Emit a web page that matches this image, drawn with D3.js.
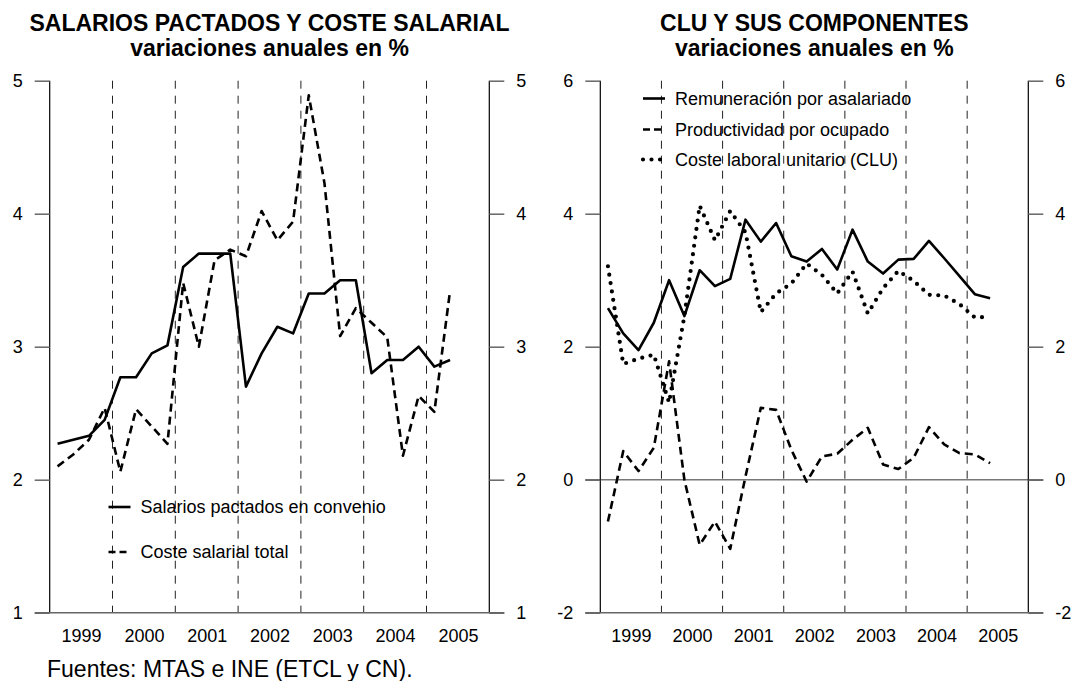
<!DOCTYPE html>
<html>
<head>
<meta charset="utf-8">
<script src="https://cdn.jsdelivr.net/npm/d3@7"></script>
<style>
  body { margin: 0; background: #fff; }
  svg { display: block; font-family: "Liberation Sans", Arial, sans-serif; }
</style>
</head>
<body>
<div id="chart"></div>
<script>
// quarterly data, 1999Q1 .. 2005Q2
const startYear = 1999;
const years = [1999, 2000, 2001, 2002, 2003, 2004, 2005];
const yearBreaks = [2000, 2001, 2002, 2003, 2004, 2005];

// left panel
const salariosPactados = [2.27, 2.30, 2.33, 2.45, 2.77, 2.77, 2.95, 3.01, 3.60, 3.70, 3.70, 3.70, 2.70,
  2.95, 3.15, 3.10, 3.40, 3.40, 3.50, 3.50, 2.80, 2.90, 2.90, 3.00, 2.85, 2.90];
const costeSalarial = [2.10, 2.19, 2.30, 2.54, 2.06, 2.53, 2.40, 2.27, 3.48, 3.00, 3.65, 3.73, 3.68,
  4.02, 3.80, 3.94, 4.89, 4.23, 3.08, 3.29, 3.18, 3.07, 2.18, 2.63, 2.51, 3.42];
const leftTicks = [1, 2, 3, 4, 5];

// right panel
const remuneracion = [2.58, 2.20, 1.95, 2.36, 3.00, 2.46, 3.15, 2.91, 3.02, 3.91, 3.58, 3.86, 3.36,
  3.28, 3.47, 3.16, 3.76, 3.28, 3.10, 3.31, 3.32, 3.59, 3.33, 3.06, 2.79, 2.73];
const productividad = [-0.63, 0.43, 0.13, 0.48, 1.78, 0.00, -0.98, -0.63, -1.04, 0.05, 1.08, 1.05, 0.45,
  -0.03, 0.35, 0.39, 0.60, 0.78, 0.23, 0.16, 0.33, 0.79, 0.53, 0.40, 0.38, 0.25];
const clu = [3.21, 1.74, 1.82, 1.88, 1.16, 2.46, 4.12, 3.60, 4.04, 3.72, 2.52, 2.80, 2.95,
  3.25, 3.08, 2.80, 3.13, 2.50, 2.88, 3.14, 2.99, 2.78, 2.77, 2.64, 2.44, 2.45];
const rightTicks = [-2, 0, 2, 4, 6];

const width = 1072, height = 681;
const yTop = 80.7, yBottom = 612.7;
const quarterTime = i => startYear + (i + 0.5) / 4;

const svg = d3.select("#chart").append("svg")
  .attr("width", width)
  .attr("height", height);

function panel({ x0, x1, yDomain, ticks, title, series, zeroLine }) {
  const x = d3.scaleLinear().domain([1999, 2006]).range([x0, x1]);
  const y = d3.scaleLinear().domain(yDomain).range([yBottom, yTop]);
  const g = svg.append("g");

  // titles
  const cx = (x0 + x1) / 2;
  g.append("text").attr("x", cx).attr("y", 31).attr("text-anchor", "middle")
    .style("font-size", "23px").style("font-weight", "bold").text(title);
  g.append("text").attr("x", cx).attr("y", 56).attr("text-anchor", "middle")
    .style("font-size", "23px").style("font-weight", "bold").text("variaciones anuales en %");

  // year separators
  g.selectAll(".sep").data(yearBreaks).join("line")
    .attr("x1", d => x(d)).attr("x2", d => x(d))
    .attr("y1", yTop).attr("y2", yBottom)
    .attr("stroke", "#222").attr("stroke-width", 1)
    .attr("stroke-dasharray", "8,7");

  if (zeroLine) {
    g.append("line")
      .attr("x1", x0 - 15).attr("x2", x1 + 15)
      .attr("y1", y(0)).attr("y2", y(0))
      .attr("stroke", "#777").attr("stroke-width", 1.5);
  }

  // axes
  const fmt = d => String(d);
  const left = g.append("g").attr("transform", `translate(${x0},0)`)
    .call(d3.axisLeft(y).tickValues(ticks).tickFormat(fmt).tickSize(15).tickPadding(12));
  const right = g.append("g").attr("transform", `translate(${x1},0)`)
    .call(d3.axisRight(y).tickValues(ticks).tickFormat(fmt).tickSize(15).tickPadding(12));
  [left, right].forEach(a => {
    a.attr("font-family", null);
    a.select(".domain").attr("stroke", "#000").attr("stroke-width", 1.2)
      .attr("d", `M0,${yTop}V${yBottom}`);
    a.selectAll(".tick line").attr("stroke", "#666").attr("stroke-width", 1.5);
    a.selectAll(".tick text").style("font-size", "18px").attr("fill", "#000");
  });

  g.append("line")
    .attr("x1", x0 - 15).attr("x2", x1 + 15)
    .attr("y1", yBottom).attr("y2", yBottom)
    .attr("stroke", "#666").attr("stroke-width", 1.5);

  const xAxis = g.append("g").attr("transform", `translate(0,${yBottom})`)
    .call(d3.axisBottom(x).tickValues(years.map(d => d + 0.5)).tickFormat(d => Math.floor(d))
      .tickSize(0).tickPadding(17));
  xAxis.attr("font-family", null);
  xAxis.select(".domain").remove();
  xAxis.selectAll("text").style("font-size", "18px").attr("fill", "#000");

  // series
  const line = d3.line().x((d, i) => x(quarterTime(i))).y(d => y(d));
  series.forEach(s => {
    g.append("path").datum(s.values)
      .attr("d", line)
      .attr("fill", "none")
      .attr("stroke", "#000")
      .attr("stroke-width", s.dotted ? 4.2 : 2.6)
      .attr("stroke-linejoin", "round")
      .attr("stroke-linecap", s.dotted ? "round" : "butt")
      .attr("stroke-dasharray", s.dash);
  });

  return { x, y, g };
}

const L = panel({
  x0: 49.7, x1: 489.3, yDomain: [1, 5], ticks: leftTicks,
  title: "SALARIOS PACTADOS Y COSTE SALARIAL",
  series: [
    { values: salariosPactados, dash: null },
    { values: costeSalarial, dash: "8,5" }
  ]
});

const R = panel({
  x0: 600.3, x1: 1028.3, yDomain: [-2, 6], ticks: rightTicks,
  title: "CLU Y SUS COMPONENTES", zeroLine: true,
  series: [
    { values: remuneracion, dash: null },
    { values: productividad, dash: "8,5" },
    { values: clu, dash: "0,8.5", dotted: true }
  ]
});

// legends
function legend(g, x, rows) {
  rows.forEach(r => {
    g.append("line")
      .attr("x1", x).attr("x2", x + 22)
      .attr("y1", r.y).attr("y2", r.y)
      .attr("stroke", "#000")
      .attr("stroke-width", r.dotted ? 4.2 : 2.6)
      .attr("stroke-linecap", r.dotted ? "round" : "butt")
      .attr("stroke-dasharray", r.dash);
    g.append("text")
      .attr("x", x + 32).attr("y", r.y).attr("dy", "0.35em")
      .style("font-size", "18px")
      .text(r.label);
  });
}

legend(L.g, 108.5, [
  { y: 507, label: "Salarios pactados en convenio", dash: null },
  { y: 552, label: "Coste salarial total", dash: "7,4" }
]);

legend(R.g, 643, [
  { y: 98.5, label: "Remuneración por asalariado", dash: null },
  { y: 129.5, label: "Productividad por ocupado", dash: "7,4" },
  { y: 159.5, label: "Coste laboral unitario (CLU)", dash: "0,8.5", dotted: true }
]);

svg.append("text")
  .attr("x", 47).attr("y", 677)
  .style("font-size", "23px")
  .text("Fuentes: MTAS e INE (ETCL y CN).");
</script>
</body>
</html>
